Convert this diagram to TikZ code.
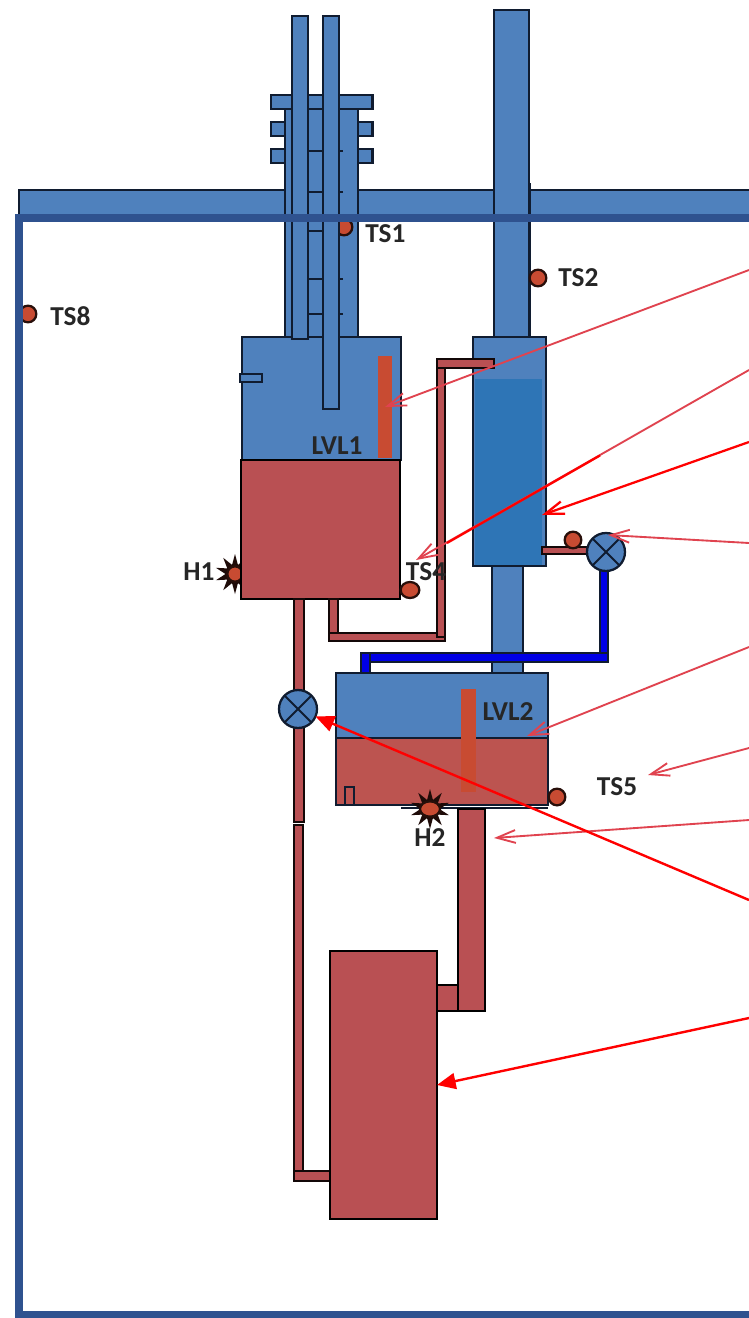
\documentclass[tikz,border=0pt]{standalone}
\usepackage{fontspec}
\setmainfont{Carlito}
\usetikzlibrary{arrows.meta,shapes.geometric}
\definecolor{pblue}{HTML}{4F81BD}
\definecolor{dblue}{HTML}{2E75B6}
\definecolor{fblue}{HTML}{2F528F}
\definecolor{pred}{HTML}{B95053}
\definecolor{sred}{HTML}{C84B32}
\definecolor{tred}{HTML}{BC5450}
\definecolor{lred}{HTML}{E0434F}
\definecolor{outl}{HTML}{101C30}
\definecolor{pipeb}{HTML}{0000E6}
\tikzset{
 bl/.style={draw=outl,fill=pblue,line width=1.8pt},
 rd/.style={draw=black!90!pred,fill=pred,line width=1.8pt},
 rdk/.style={draw=black,fill=pred,line width=1.9pt},
 bu/.style={draw=outl,fill=pipeb,line width=1.5pt},
 sens/.style={fill=sred,draw=none},
 ball/.style={circle,draw=black!80!sred,fill=sred,line width=1.7pt,inner sep=0pt,outer sep=0pt,minimum size=12.5pt},
 valve/.style={circle,draw=outl,fill=pblue,line width=1.7pt,inner sep=0pt,outer sep=0pt,minimum size=28.5pt},
 heat/.style={star,star points=10,star point ratio=2.1,fill=black!85!sred,inner sep=0pt,outer sep=0pt,minimum size=30pt},
 lab/.style={font=\fontsize{20.5}{22}\selectfont\bfseries,text=black!85,inner sep=0pt},
 thinl/.style={draw=outl,line width=1.5pt},
 opena/.style={lred,line width=1.4pt,-{Straight Barb[length=14pt,width=15pt,angle'=38]}},
 openb/.style={red,line width=1.7pt,-{Straight Barb[length=14pt,width=15pt,angle'=38]}},
 filla/.style={red,line width=1.8pt,-{Triangle[length=14pt,width=12pt]}},
}
% \bx[style]{name}{x1}{y1}{x2}{y2}
\newcommand\bx[6][]{%
 \pgfmathsetmacro\bxw{(#5-#3)*0.75}\pgfmathsetmacro\bxh{(#6-#4)*0.75}%
 \pgfmathsetmacro\bxx{(#3+#5)/2}\pgfmathsetmacro\bxy{(#4+#6)/2}%
 \node[rectangle,inner sep=0pt,outer sep=0pt,minimum width=\bxw pt,minimum height=\bxh pt,#1] (#2) at (\bxx,\bxy) {};}
\begin{document}
\begin{tikzpicture}[x=0.75pt,y=-0.75pt]
\useasboundingbox (0,0) rectangle (749,1318);
\fill[white] (0,0) rectangle (749,1318);
% band
\bx[fill=pblue,draw=outl,line width=1.2pt]{band}{19}{190}{760}{218}
% flanges
\bx[bl]{fa}{271}{95}{372.5}{109}
\bx[bl]{fb}{271}{122}{285}{136}
\bx[bl]{fc}{271}{149}{285}{163}
\bx[bl]{fd}{358}{122}{372.5}{136}
\bx[bl]{fe}{358}{149}{372.5}{163}
% body
\bx[bl]{body}{285}{109}{358}{337}
\foreach \yy in {151,192,231,279,314}{
  \draw[thinl] (308,\yy) -- (323,\yy) (339,\yy) -- (343,\yy);
}
% TS1 etc.
\node[ball] (ts1) at (344,227) {};
\node[lab,anchor=west] (ts1l) at (365,234) {TS1};
\bx[bl]{tank1}{242}{337}{401}{460}
\bx[bl]{tubea}{292}{16}{308}{339}
\bx[bl]{tubeb}{323}{16}{339}{409}
\bx[bl]{stub1}{240}{374}{262}{382}
\bx[sens]{lvls1}{378}{356}{392}{458}
\node[lab] (lvl1) at (337,446) {LVL1};
% right column
\draw[thinl] (530,183) -- (530,337);
\bx[bl]{tubec}{494}{10}{529}{337}
\bx[bl]{col}{473}{337}{546}{566}
\bx[fill=dblue]{colin}{475}{379}{542}{565}
\bx[bl]{tubed}{492}{566}{523}{676}
\node[ball] (ts2) at (538,278) {};
\node[lab,anchor=west] (ts2l) at (558,278) {TS2};
\node[ball] (ts8) at (28,314) {};
\node[lab,anchor=west] (ts8l) at (50,316) {TS8};
% heater 1 + red tank
\node[heat] (h1) at (235,574) {};
\node[ball,minimum size=11.5pt] (h1c) at (235,574) {};
\bx[rdk]{hot1}{241}{460}{400}{599}
\node[lab] (h1l) at (199,572) {H1};
\node[ball,minimum width=14pt,ellipse,minimum height=12pt] (ts4) at (410,590) {};
% pipes
\bx[rd]{p1}{329}{599}{338}{637}
\bx[rd]{p2}{329}{633}{445}{641}
\bx[rd]{p3}{437}{360}{445}{637}
\bx[rd]{p4}{437}{359}{494}{368}
\node[lab] (ts4l) at (426,572) {TS4};
\bx[rd]{p5}{294}{599}{304}{822}
\bx[rd]{p6}{294}{825}{303}{1175}
\bx[rd]{p7}{294}{1171}{330}{1181}
% valve pipe
\bx[rd]{p8}{542}{547}{590}{554}
\node[ball] (s3) at (573,540) {};
\bx[bu]{b1}{600}{552}{608}{660}
\bx[bu]{b2}{361}{653}{608}{662}
\bx[bu]{b3}{361}{653}{370}{676}
\node[valve] (v1) at (606,552) {};
\draw[outl,line width=1.4pt] (v1.north west) -- (v1.south east) (v1.north east) -- (v1.south west);
\node[valve] (v2) at (298,709) {};
\draw[outl,line width=1.4pt] (v2.north west) -- (v2.south east) (v2.north east) -- (v2.south west);
% tank 2
\bx[bl]{tank2}{336}{673}{548}{738}
\bx[fill=tred,draw=outl,line width=1.8pt]{hot2}{336}{738}{548}{805}
\bx[bl,fill=tred]{stub2}{345}{787}{354}{805}
\bx[sens]{lvls2}{461}{689}{476}{792}
\node[lab] (lvl2) at (508,712) {LVL2};
\draw[outl,line width=1.4pt] (401,808) -- (548,808);
\node[heat] (h2) at (430,809) {};
\node[ball,minimum size=11.5pt,ellipse,minimum width=15pt] (h2c) at (430,809) {};
\node[lab] (h2l) at (430,838) {H2};
\node[ball] (ts5) at (557,797) {};
\node[lab] (ts5l) at (617,787) {TS5};
% drain + lower box
\bx[rdk]{out}{458}{809}{485}{1011}
\bx[rdk]{out2}{437}{985}{458}{1011}
\bx[rdk]{box}{330}{951}{437}{1219}
% frame
\draw[fblue,line width=6pt] (760,218) -- (19,218) -- (19,1315) -- (760,1315);
% arrows
\coordinate (a1) at (749,270);
\coordinate (a2) at (749,370);
\coordinate (a3) at (749,442);
\coordinate (a4) at (749,543);
\coordinate (a5) at (749,647);
\coordinate (a6) at (749,748);
\coordinate (a7) at (749,820);
\coordinate (a8) at (749,900);
\coordinate (a9) at (749,1018);
\coordinate (e2) at (416,560);
\coordinate (e3) at (542,515);
\coordinate (e4) at (608,535);
\coordinate (e5) at (527,736);
\coordinate (e6) at (648,775);
\coordinate (e7) at (494,838);
\draw[opena] (a1) -- (lvls1.center);
\draw[opena] (a2) -- (e2);
\draw[red,line width=1.7pt] (600,455.5) -- (447,543);
\draw[openb] (a3) -- (e3);
\draw[opena] (a4) -- (e4);
\draw[opena] (a5) -- (e5);
\draw[opena] (a6) -- (e6);
\draw[opena] (a7) -- (e7);
\draw[filla] (a8) -- (v2);
\draw[filla] (a9) -- (box.east);
\end{tikzpicture}
\end{document}
